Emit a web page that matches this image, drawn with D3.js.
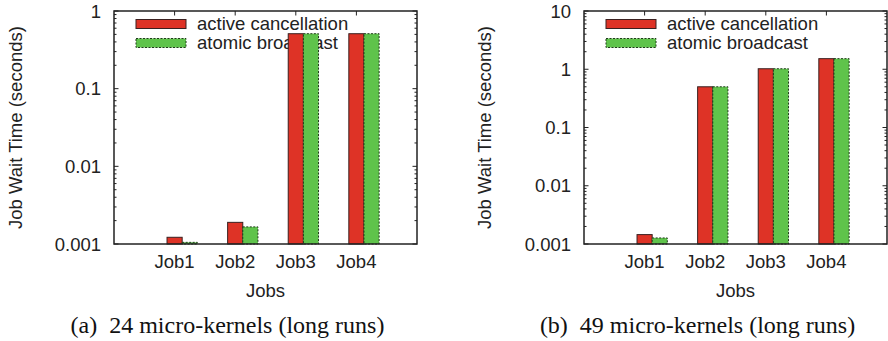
<!DOCTYPE html>
<html><head><meta charset="utf-8">
<script src="https://cdn.jsdelivr.net/npm/d3@7"></script>
<style>body{margin:0;background:#fff}svg{display:block}</style>
</head><body>
<svg id="c" width="888" height="341"></svg>
<script>
const categories = ["Job1","Job2","Job3","Job4"];
const seriesNames = ["active cancellation","atomic broadcast"];
// panel (a): 24 micro-kernels
const activeA = [0.00122, 0.0019, 0.51, 0.51];
const atomicA = [0.00105, 0.00166, 0.51, 0.51];
// panel (b): 49 micro-kernels
const activeB = [0.00145, 0.5, 1.02, 1.52];
const atomicB = [0.00127, 0.5, 1.02, 1.52];
const yTicksA = [0.001, 0.01, 0.1, 1];
const yTicksB = [0.001, 0.01, 0.1, 1, 10];
const tickLabelsA = ["0.001","0.01","0.1","1"];
const tickLabelsB = ["0.001","0.01","0.1","1","10"];
const captions = ["(a)\u00a0 24 micro-kernels (long runs)", "(b)\u00a0 49 micro-kernels (long runs)"];

const colors = ["#de3326", "#5fc34b"];
const svg = d3.select("#c");
const SANS = "'Liberation Sans', Arial, Helvetica, sans-serif";
const SERIF = "'Liberation Serif', 'Times New Roman', serif";

function panel(cfg){
  const {x0,x1,y0,y1,yMax,active,atomic,ticks,labels,caption,capX,ylabX} = cfg;
  const g = svg.append("g");
  const x = d3.scaleLinear().domain([-1,4]).range([x0,x1]);
  const y = d3.scaleLog().domain([0.001,yMax]).range([y1,y0]);

  const minors = [];
  for (let e=-3; Math.pow(10,e) < yMax; e++) for (let k=2;k<=9;k++) minors.push(k*Math.pow(10,e));
  const tk = g.append("g").attr("stroke","#222").attr("stroke-width",1);
  minors.forEach(v=>{
    tk.append("line").attr("x1",x0).attr("x2",x0+2.5).attr("y1",y(v)).attr("y2",y(v));
    tk.append("line").attr("x1",x1).attr("x2",x1-2.5).attr("y1",y(v)).attr("y2",y(v));
  });
  ticks.forEach((v,i)=>{
    tk.append("line").attr("x1",x0).attr("x2",x0+4.5).attr("y1",y(v)).attr("y2",y(v));
    tk.append("line").attr("x1",x1).attr("x2",x1-4.5).attr("y1",y(v)).attr("y2",y(v));
    g.append("text").attr("x",x0-13).attr("y",y(v)+6.5).attr("text-anchor","end")
      .attr("font-family",SANS).attr("font-size",18.5).attr("fill","#222").text(labels[i]);
  });
  categories.forEach((c,i)=>{
    tk.append("line").attr("x1",x(i)).attr("x2",x(i)).attr("y1",y0).attr("y2",y0+4.5);
    tk.append("line").attr("x1",x(i)).attr("x2",x(i)).attr("y1",y1).attr("y2",y1-4.5);
    g.append("text").attr("x",x(i)).attr("y",268).attr("text-anchor","middle")
      .attr("font-family",SANS).attr("font-size",18.5).attr("fill","#222").text(c);
  });

  const lg = g.append("g");
  [0,1].forEach(s=>{
    const ly = 19.5 + s*19;
    lg.append("rect").attr("x",x0+22).attr("y",ly).attr("width",50).attr("height",9)
      .attr("fill",colors[s]).attr("stroke", s===0?"#3a2020":"#1f3a1a").attr("stroke-width",1)
      .attr("stroke-dasharray", s===0?null:"2,1.5");
    lg.append("text").attr("x",x0+83).attr("y",ly+10.5).attr("font-family",SANS)
      .attr("font-size",18.5).attr("fill","#222").text(seriesNames[s]);
  });

  const bw = 0.25;
  [active, atomic].forEach((vals,s)=>{
    g.append("g").selectAll("rect").data(vals).join("rect")
      .attr("x",(d,i)=>x(i-0.125+s*bw))
      .attr("width",x(bw)-x(0))
      .attr("y",d=>y(d))
      .attr("height",d=>y1-y(d))
      .attr("fill",colors[s])
      .attr("stroke", s===0?"#3a2020":"#1f3a1a")
      .attr("stroke-width",1)
      .attr("stroke-dasharray", s===0?null:"2,1.5");
  });

  g.append("rect").attr("x",x0).attr("y",y0).attr("width",x1-x0).attr("height",y1-y0)
    .attr("fill","none").attr("stroke","#222").attr("stroke-width",1.5);

  g.append("text").attr("transform",`translate(${ylabX},127.5) rotate(-90)`)
    .attr("text-anchor","middle").attr("font-family",SANS).attr("font-size",18.5).attr("fill","#222")
    .text("Job Wait Time (seconds)");
  g.append("text").attr("x",(x0+x1)/2).attr("y",297).attr("text-anchor","middle")
    .attr("font-family",SANS).attr("font-size",18.5).attr("fill","#222").text("Jobs");
  g.append("text").attr("x",capX).attr("y",333).attr("text-anchor","middle")
    .attr("font-family",SERIF).attr("font-size",24).attr("fill","#111").text(caption);
}

panel({x0:114,x1:417,y0:11,y1:244,yMax:1,active:activeA,atomic:atomicA,ticks:yTicksA,labels:tickLabelsA,caption:captions[0],capX:227.5,ylabX:22});
panel({x0:584,x1:887,y0:11,y1:244,yMax:10,active:activeB,atomic:atomicB,ticks:yTicksB,labels:tickLabelsB,caption:captions[1],capX:697.5,ylabX:491});
</script>
</body></html>
